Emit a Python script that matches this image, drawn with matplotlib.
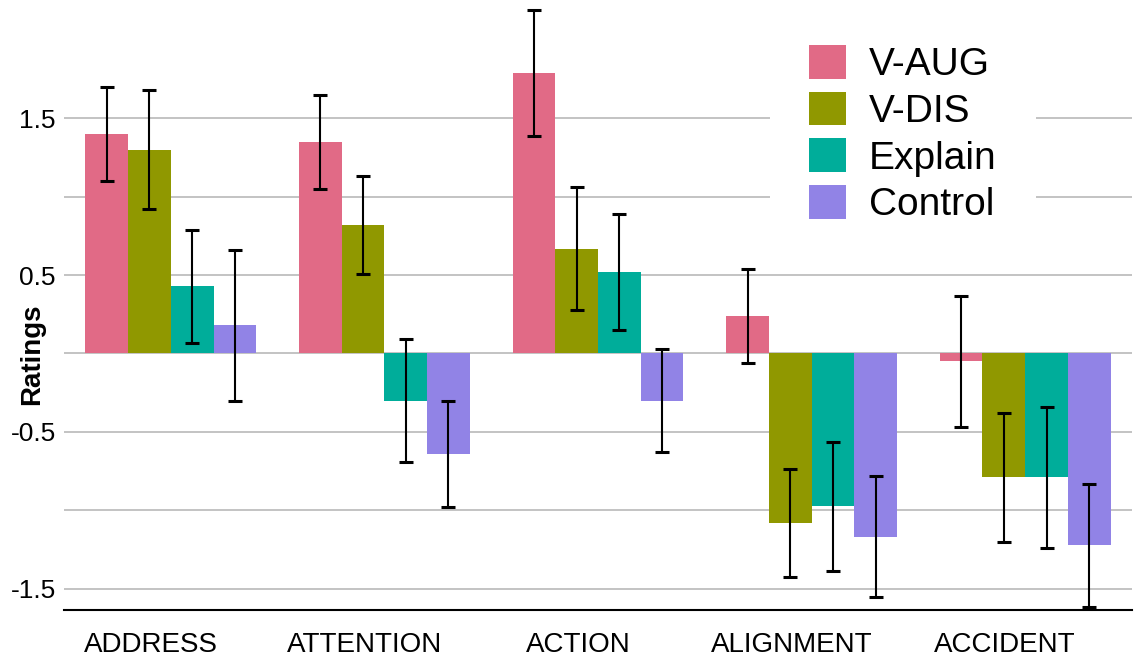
import numpy as np
import matplotlib.pyplot as plt
import matplotlib.transforms as mtransforms

plt.rcParams['font.family'] = ['Liberation Sans', 'DejaVu Sans']

# --- données ---
categories = ['ADDRESS', 'ATTENTION', 'ACTION', 'ALIGNMENT', 'ACCIDENT']
groups = ['V-AUG', 'V-DIS', 'Explain', 'Control']
colors = ['#E16A86', '#909800', '#00AD9A', '#9183E6']

means = {
    'V-AUG':   [1.40, 1.35, 1.79, 0.24, -0.05],
    'V-DIS':   [1.30, 0.82, 0.67, -1.08, -0.79],
    'Explain': [0.43, -0.30, 0.52, -0.975, -0.79],
    'Control': [0.18, -0.64, -0.30, -1.17, -1.225],
}
errors = {
    'V-AUG':   [0.30, 0.30, 0.40, 0.30, 0.42],
    'V-DIS':   [0.38, 0.31, 0.39, 0.345, 0.41],
    'Explain': [0.36, 0.39, 0.37, 0.41, 0.45],
    'Control': [0.48, 0.34, 0.33, 0.385, 0.39],
}

y_major = [-1.5, -0.5, 0.5, 1.5]
y_minor = [-1.0, 0.0, 1.0]

fig = plt.figure(figsize=(11.38, 6.58), dpi=100)
ax = fig.add_axes([64 / 1138, 48 / 658, 1068 / 1138, 610 / 658])

x = np.arange(len(categories))
width = 0.2
for j, g in enumerate(groups):
    pos = x + (j - 1.5) * width
    ax.bar(pos, means[g], width=width, color=colors[j], label=g, zorder=2)
    ax.errorbar(pos, means[g], yerr=errors[g], fmt='none', ecolor='black',
                elinewidth=1.5, capsize=5, capthick=2.2, zorder=3)

ax.set_xlim(-0.5, 4.5)
ax.set_ylim(-1.637, 2.256)

ax.set_yticks(y_major)
ax.set_yticklabels([str(v) for v in y_major])
ax.set_yticks(y_minor, minor=True)
ax.grid(axis='y', which='both', color='#BEBEBE', linewidth=1.3, zorder=0)
ax.set_axisbelow(True)

ax.set_xticks(x)
ax.set_xticklabels(categories)
ax.tick_params(axis='x', length=0, labelsize=20, pad=16)
ax.tick_params(axis='y', which='both', length=0, labelsize=19, pad=6)

# décalage des étiquettes vers la gauche comme sur l'original
offset = mtransforms.ScaledTranslation(-0.2, 0, fig.dpi_scale_trans)
for lbl in ax.get_xticklabels():
    lbl.set_transform(lbl.get_transform() + offset)

for s in ['top', 'right', 'left']:
    ax.spines[s].set_visible(False)
ax.spines['bottom'].set_linewidth(1.5)

ax.set_ylabel('Ratings', fontsize=20, fontweight='bold')
ax.yaxis.set_label_coords(-0.018, 0.42)

leg = ax.legend(loc='upper left', bbox_to_anchor=(0.661, 0.99), borderaxespad=0,
                fontsize=28, handlelength=0.95, handleheight=0.95,
                handletextpad=0.6, labelspacing=0.22, borderpad=1.0,
                frameon=True, fancybox=False, framealpha=1)
leg.get_frame().set_edgecolor('none')
leg.get_frame().set_facecolor('white')
leg.set_zorder(5)

fig.savefig('out.png', dpi=100)
